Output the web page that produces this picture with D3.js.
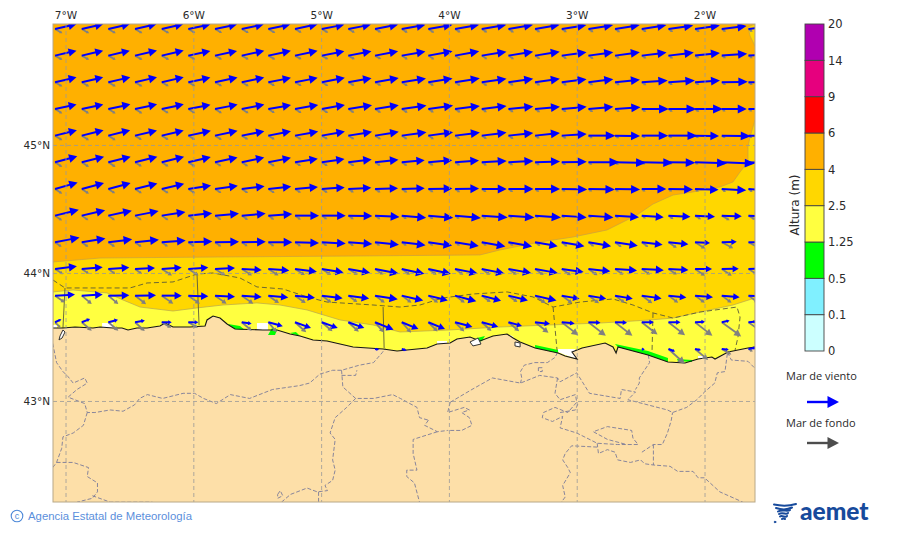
<!DOCTYPE html>
<html>
<head>
<meta charset="utf-8">
<script src="https://cdn.jsdelivr.net/npm/d3@7"></script>
<style>
  body { margin: 0; background: #fff; }
  text { font-family: "DejaVu Sans", sans-serif; fill: #2a2a2a; }
</style>
</head>
<body>
<div id="chart"></div>
<script>
// Colour bar classes (m)
const levels = ["0", "0.1", "0.5", "1.25", "2.5", "4", "6", "9", "14", "20"];
const levelColors = ["#ccffff", "#80f0ff", "#00ff00", "#ffff40", "#ffd700", "#ffb000", "#ff0000", "#e6007e", "#b000b0"];

const lonTicks = [-7, -6, -5, -4, -3, -2];
const latTicks = [45, 44, 43];

// Grid of the wave arrows
const gridLons = [-7.082, -6.873, -6.665, -6.456, -6.247, -6.039, -5.830, -5.621, -5.413, -5.204, -4.995, -4.787, -4.578, -4.369, -4.161, -3.952, -3.743, -3.534, -3.326, -3.117, -2.908, -2.700, -2.491, -2.282, -2.074, -1.865, -1.656];
const gridLats = [45.906, 45.698, 45.490, 45.281, 45.073, 44.865, 44.656, 44.448, 44.240, 44.031, 43.823, 43.615, 43.406];

// Wind sea: height (m) and angle above east (deg), one row per latitude
const _ = null;
const windHeight = [
  [4.4,4.4,4.4,4.4,4.4,4.5,4.5,4.5,4.5,4.6,4.6,4.6,4.7,4.8,4.9,4.9,5.0,5.0,5.0,5.0,5.0,5.0,5.0,5.0,5.0,5.0,5.0],
  [4.4,4.4,4.4,4.5,4.5,4.5,4.5,4.6,4.6,4.6,4.6,4.7,4.7,4.8,4.9,4.9,5.0,5.0,5.0,5.0,5.0,5.0,5.0,5.1,5.0,5.1,5.0],
  [4.4,4.4,4.5,4.5,4.5,4.5,4.6,4.6,4.6,4.6,4.7,4.7,4.8,4.9,4.9,5.0,5.0,5.0,5.0,5.0,5.0,5.0,5.2,5.3,5.0,5.2,5.2],
  [4.4,4.4,4.5,4.5,4.5,4.5,4.6,4.6,4.6,4.7,4.7,4.8,4.8,5.0,5.0,5.0,5.0,5.0,5.0,5.0,5.0,5.1,5.4,5.6,5.6,5.0,5.2],
  [4.5,4.5,4.5,4.5,4.5,4.6,4.6,4.6,4.6,4.7,4.7,4.8,4.8,5.0,5.0,5.0,5.0,5.0,5.0,5.0,5.4,5.0,5.3,5.8,4.8,5.8,5.5],
  [4.6,4.6,4.6,4.6,4.6,4.6,4.6,4.6,4.6,4.6,4.6,4.7,4.7,4.6,4.8,4.8,5.0,5.0,5.0,5.0,6.2,6.2,6.3,5.4,6.4,6.6,6.0],
  [4.7,4.6,4.6,4.6,4.6,4.6,4.6,4.6,4.6,4.6,4.6,4.6,4.6,4.6,4.8,4.8,5.0,5.0,5.0,5.1,5.3,5.0,4.9,4.9,4.7,4.9,3.5],
  [4.9,4.8,4.8,4.8,4.8,4.8,4.8,4.8,4.8,4.8,4.8,4.8,4.9,4.9,5.0,5.2,5.2,5.2,5.2,5.0,5.0,4.8,4.4,4.4,4.0,4.0,3.8],
  [5.0,4.8,4.8,4.8,4.8,4.8,4.8,4.8,4.8,4.8,4.8,4.8,4.8,4.8,4.8,4.8,4.8,4.8,4.6,4.6,4.6,4.6,4.2,4.0,3.0,3.0,2.8],
  [4.4,4.2,4.2,4.0,4.0,4.0,4.0,4.0,4.2,4.4,4.4,4.4,4.8,4.6,4.6,4.6,4.6,4.6,4.6,4.4,4.4,4.4,4.4,4.0,3.4,3.4,2.6],
  [4.0,4.2,4.2,4.2,4.0,4.0,4.0,4.0,4.0,4.0,4.2,4.2,4.6,4.4,4.0,4.4,4.0,4.0,4.4,3.6,3.6,3.6,4.0,3.6,3.6,3.6,3.6],
  [1.4,1.8,2.0,2.0,2.0,2.0,_,2.0,3.0,3.4,3.4,3.4,4.0,3.6,3.6,3.6,3.4,2.8,3.0,2.6,2.4,2.4,2.4,2.4,2.0,1.6,1.6],
  [_,_,_,_,_,_,_,_,_,_,_,_,0.8,1.0,_,_,_,_,_,_,_,_,0.6,1.4,1.2,1.4,1.6]
];
const windAngle = [
  [13,13,13,13,13,12,12,12,12,12,11,11,11,10,10,10,10,10,10,9,9,9,9,8,8,7,6],
  [13,13,13,13,13,12,12,12,12,12,11,11,11,10,10,10,9,9,9,8,8,8,7,7,6,4,4],
  [13,13,13,13,13,12,12,12,11,11,11,10,10,9,9,9,8,8,8,7,7,6,4,4,4,1,1],
  [12,12,12,12,12,11,11,11,10,10,10,9,9,8,8,7,7,6,5,5,5,4,0,0,0,0,0],
  [14,14,14,13,13,12,12,11,11,10,10,9,9,8,8,7,7,6,6,4,0,-1,0,0,-1,-1,-1],
  [15,14,14,14,14,13,12,12,11,9,8,7,6,5,5,4,3,3,2,1,0,-1,-1,-1,-2,-2,-2],
  [16,15,15,14,13,9,8,7,6,5,4,3,2,2,1,1,0,0,0,-1,-1,-1,0,-1,-2,-3,-4],
  [14,13,12,11,9,6,5,5,4,0,0,-1,-3,-5,-5,-5,-4,-4,-4,-4,-4,-4,-4,-3,-3,-2,-3],
  [11,9,7,6,4,2,1,1,0,-2,-3,-4,-6,-7,-8,-9,-10,-10,-10,-10,-10,-9,-7,-6,-3,2,0],
  [7,5,4,3,4,4,3,-3,-4,-7,-9,-10,-11,-12,-12,-11,-11,-10,-10,-8,-6,-4,-3,-3,0,1,2],
  [3,3,1,1,0,-2,-3,-4,-5,-6,-7,-8,-9,-13,-14,-15,-15,-14,-13,-10,-10,-10,-8,-6,-5,-5,-3],
  [25,22,15,10,0,0,_,-8,-15,-20,-20,-20,-22,-22,-22,-15,-15,-15,-6,-5,-2,-2,0,0,3,12,5],
  [_,_,_,_,_,_,_,_,_,_,_,_,-10,-15,_,_,_,_,_,_,_,_,-10,-20,-10,-5,10]
];

// Swell
const swellHeight = [
  [1.7,1.7,1.7,1.7,1.7,1.6,1.6,1.6,1.6,1.5,1.5,1.5,1.4,1.4,1.4,1.3,1.3,1.3,1.2,1.2,1.2,1.2,1.1,1.1,1.1,1.0,1.0],
  [1.7,1.7,1.7,1.7,1.7,1.6,1.6,1.6,1.6,1.5,1.5,1.5,1.4,1.4,1.4,1.3,1.3,1.3,1.2,1.2,1.2,1.1,1.1,1.1,1.0,1.0,1.0],
  [1.7,1.7,1.7,1.7,1.6,1.6,1.6,1.6,1.5,1.5,1.5,1.4,1.4,1.4,1.3,1.3,1.3,1.2,1.2,1.2,1.1,1.1,1.1,1.0,1.0,1.0,1.0],
  [1.7,1.7,1.7,1.7,1.6,1.6,1.6,1.6,1.5,1.5,1.5,1.4,1.4,1.4,1.3,1.3,1.2,1.2,1.2,1.1,1.1,1.1,1.0,1.0,1.0,0.9,0.9],
  [1.7,1.7,1.7,1.6,1.6,1.6,1.6,1.5,1.5,1.5,1.4,1.4,1.4,1.3,1.3,1.2,1.2,1.2,1.1,1.1,1.0,1.0,0.9,0.9,0.9,0.9,0.9],
  [1.7,1.7,1.7,1.6,1.6,1.6,1.5,1.5,1.5,1.4,1.4,1.4,1.3,1.3,1.2,1.2,1.2,1.1,1.1,1.0,0.9,0.9,0.8,0.8,0.8,0.8,0.8],
  [1.7,1.7,1.6,1.6,1.6,1.6,1.5,1.5,1.5,1.4,1.4,1.3,1.3,1.3,1.2,1.2,1.1,1.1,1.0,0.9,0.9,0.9,0.9,0.9,0.9,1.0,1.0],
  [1.7,1.6,1.6,1.6,1.6,1.5,1.5,1.5,1.4,1.4,1.3,1.3,1.3,1.2,1.2,1.1,1.1,1.0,0.9,0.8,0.8,0.9,1.0,1.2,1.4,1.8,1.6],
  [1.6,1.6,1.6,1.6,1.5,1.5,1.5,1.4,1.4,1.4,1.3,1.3,1.2,1.2,1.2,1.2,1.2,1.2,1.3,1.4,1.4,1.6,1.6,2.0,2.4,2.6,2.4],
  [1.9,1.7,1.7,1.7,2.4,2.4,2.4,2.4,2.4,2.3,2.2,2.2,2.0,2.0,2.0,2.0,2.0,2.0,2.1,2.2,2.2,2.0,2.0,2.0,2.4,2.4,2.0],
  [2.4,2.6,2.6,2.8,2.8,2.8,2.8,2.8,2.6,2.6,2.4,2.2,2.4,2.4,2.4,2.4,2.2,2.2,2.6,2.6,2.6,2.4,2.6,2.4,2.4,2.4,2.4],
  [1.6,2.6,2.6,2.6,2.2,2.2,_,2.6,2.6,3.0,2.8,2.8,2.6,2.8,2.6,2.6,2.6,2.8,3.4,4.2,4.4,4.4,4.0,4.2,4.4,4.8,4.8],
  [_,_,_,_,_,_,_,_,_,_,_,_,_,_,_,_,_,_,_,_,_,_,_,4.4,3.4,2.2,1.0]
];
const swellAngle = [
  [-30,-30,-30,-30,-30,-30,-30,-30,-30,-30,-30,-30,-30,-33,-33,-33,-33,-33,-33,-33,-33,-33,-33,-33,-33,-33,-33],
  [-30,-30,-30,-30,-30,-30,-30,-30,-30,-30,-30,-30,-30,-33,-33,-33,-33,-33,-33,-33,-33,-33,-33,-33,-33,-33,-33],
  [-30,-30,-30,-30,-30,-30,-30,-30,-30,-30,-30,-30,-30,-33,-33,-33,-33,-33,-33,-33,-33,-33,-33,-33,-33,-33,-33],
  [-32,-32,-32,-32,-32,-32,-32,-32,-32,-32,-32,-32,-32,-33,-33,-33,-33,-33,-33,-33,-33,-33,-33,-33,-33,-33,-33],
  [-32,-32,-32,-32,-32,-32,-32,-32,-32,-32,-32,-32,-32,-33,-33,-33,-33,-33,-33,-33,-33,-33,-33,-33,-33,-33,-33],
  [-33,-33,-33,-33,-33,-33,-33,-33,-33,-33,-33,-33,-33,-33,-33,-33,-33,-33,-33,-33,-33,-33,-33,-33,-33,-33,-33],
  [-33,-33,-33,-33,-33,-33,-33,-33,-33,-33,-33,-33,-33,-33,-33,-33,-33,-33,-33,-35,-35,-35,-35,-35,-35,-35,-35],
  [-35,-35,-35,-35,-35,-35,-35,-35,-35,-35,-35,-35,-35,-35,-35,-35,-35,-35,-35,-38,-38,-35,-35,-35,-32,-30,-30],
  [-35,-35,-35,-35,-35,-35,-35,-35,-35,-35,-35,-35,-35,-35,-35,-35,-35,-35,-35,-38,-38,-36,-36,-34,-32,-28,-28],
  [-33,-33,-35,-35,-32,-32,-32,-32,-32,-32,-32,-32,-34,-35,-35,-35,-35,-35,-35,-35,-35,-35,-34,-34,-34,-34,-32],
  [-35,-40,-40,-38,-35,-35,-35,-35,-35,-35,-36,-36,-36,-36,-36,-36,-36,-36,-36,-36,-36,-36,-36,-36,-36,-36,-36],
  [-45,-40,-40,-42,-30,-30,_,-40,-50,-42,-40,-42,-50,-48,-45,-45,-42,-40,-38,-38,-38,-38,-38,-38,-38,-36,-36],
  [_,_,_,_,_,_,_,_,_,_,_,_,_,_,_,_,_,_,_,_,_,_,_,-42,-40,-30,-30]
];

// Land, coast and contour outlines as [lon, lat]
const coast = [[-7.098,43.570],[-7.020,43.570],[-6.926,43.578],[-6.785,43.570],[-6.730,43.578],[-6.628,43.570],[-6.558,43.570],[-6.511,43.555],[-6.441,43.570],[-6.362,43.570],[-6.261,43.586],[-6.221,43.609],[-6.159,43.578],[-6.026,43.578],[-5.908,43.586],[-5.893,43.633],[-5.846,43.664],[-5.791,43.648],[-5.736,43.602],[-5.674,43.563],[-5.455,43.555],[-5.345,43.555],[-5.243,43.523],[-5.165,43.508],[-5.063,43.477],[-4.954,43.469],[-4.750,43.422],[-4.515,43.406],[-4.406,43.391],[-4.328,43.398],[-4.171,43.414],[-4.093,43.445],[-3.991,43.453],[-3.937,43.484],[-3.835,43.500],[-3.757,43.469],[-3.655,43.508],[-3.545,43.523],[-3.498,43.492],[-3.443,43.461],[-3.326,43.414],[-3.146,43.375],[-3.091,43.352],[-2.997,43.328],[-3.037,43.383],[-2.958,43.414],[-2.778,43.453],[-2.716,43.422],[-2.692,43.375],[-2.677,43.422],[-2.442,43.359],[-2.286,43.305],[-2.153,43.297],[-2.051,43.328],[-1.942,43.344],[-1.918,43.328],[-1.816,43.383],[-1.660,43.414],[-1.605,43.422]];
const estuaries = [
  [[-7.020,43.555],[-7.043,43.508],[-7.051,43.477],[-7.027,43.492],[-7.004,43.539]],
  [[-3.835,43.461],[-3.772,43.492],[-3.749,43.445],[-3.812,43.430]],
  [[-3.483,43.461],[-3.443,43.453],[-3.443,43.422],[-3.483,43.430]]
];
const goldEdge = [[-7.098,44.086],[-6.730,44.117],[-5.791,44.125],[-4.696,44.133],[-3.757,44.141],[-3.600,44.180],[-3.287,44.242],[-3.029,44.281],[-2.763,44.336],[-2.528,44.453],[-2.403,44.539],[-2.246,44.609],[-2.090,44.633],[-1.879,44.672],[-1.777,44.711],[-1.722,44.789],[-1.660,44.867],[-1.660,44.984],[-1.644,45.063],[-1.605,45.195]];
const goldCorner = [[-1.605,45.945],[-1.660,45.922],[-1.644,45.852],[-1.605,45.773]];
const yellowEdge = [[-7.098,43.852],[-6.941,43.867],[-6.675,43.844],[-6.550,43.789],[-6.417,43.734],[-6.159,43.703],[-5.971,43.727],[-5.768,43.750],[-5.502,43.766],[-5.322,43.750],[-5.110,43.711],[-4.852,43.633],[-4.594,43.594],[-4.383,43.539],[-3.991,43.555],[-3.600,43.578],[-3.209,43.594],[-2.817,43.609],[-2.426,43.633],[-2.246,43.648],[-2.035,43.695],[-1.777,43.750],[-1.605,43.805]];
const greenPatches = [
  [[-5.728,43.602],[-5.674,43.563],[-5.596,43.555],[-5.635,43.586]],
  [[-5.416,43.516],[-5.384,43.570],[-5.345,43.555],[-5.361,43.516]],
  [[-5.243,43.531],[-5.165,43.508],[-5.197,43.539]],
  [[-3.780,43.492],[-3.718,43.508],[-3.741,43.469],[-3.772,43.461]],
  [[-3.326,43.438],[-3.146,43.398],[-3.146,43.375],[-3.326,43.414]],
  [[-2.701,43.445],[-2.442,43.391],[-2.286,43.336],[-2.286,43.305],[-2.442,43.359],[-2.677,43.422]],
  [[-2.216,43.328],[-2.098,43.320],[-2.098,43.305],[-2.208,43.313]]
];
const whitePatches = [
  [[-6.714,43.609],[-6.628,43.609],[-6.628,43.570],[-6.714,43.570]],
  [[-5.502,43.609],[-5.416,43.609],[-5.416,43.555],[-5.502,43.555]],
  [[-4.093,43.469],[-4.015,43.469],[-4.015,43.445],[-4.093,43.445]],
  [[-3.146,43.406],[-3.013,43.406],[-2.997,43.328],[-3.091,43.359],[-3.146,43.383]],
  [[-2.051,43.352],[-1.989,43.352],[-1.989,43.336],[-2.051,43.332]],
  [[-3.522,43.516],[-3.491,43.500],[-3.522,43.492]],
  [[-7.098,43.594],[-7.067,43.594],[-7.067,43.570],[-7.098,43.570]]
];
// Offshore forecast zones
const zoneEdge = [[-7.098,43.945],[-7.004,43.883],[-6.496,43.883],[-6.362,43.922],[-6.159,43.930],[-5.971,43.992],[-5.846,44.000],[-5.635,43.961],[-5.502,43.891],[-5.298,43.875],[-5.110,43.813],[-4.954,43.773],[-4.594,43.750],[-4.383,43.734],[-4.226,43.750],[-4.046,43.805],[-3.811,43.836],[-3.545,43.852],[-3.342,43.813],[-3.185,43.734],[-2.974,43.773],[-2.716,43.797],[-2.560,43.750],[-2.403,43.688],[-2.246,43.648],[-2.035,43.695],[-1.746,43.734],[-1.722,43.656],[-1.738,43.500],[-1.761,43.398]];
const zoneSplits = [
  [[-7.004,43.883],[-7.020,43.570]],
  [[-5.971,43.992],[-5.955,43.594]],
  [[-4.515,43.734],[-4.507,43.414]]
];
const zoneSplitsDashed = [
  [[-3.185,43.734],[-3.154,43.398]],
  [[-2.403,43.688],[-2.411,43.375]]
];
// Province borders
const borders = [
  [[-7.10,43.45],[-7.07,43.30],[-7.02,43.23],[-6.98,43.19],[-6.94,43.14],[-6.85,43.18],[-6.83,43.14],[-6.91,43.09],[-6.98,43.03],[-6.85,42.98],[-6.83,42.91],[-6.77,42.91],[-6.65,42.93],[-6.55,42.92],[-6.46,42.97],[-6.42,43.02],[-6.36,43.05],[-6.24,43.02],[-6.08,43.06],[-5.99,43.06],[-5.92,43.02],[-5.82,42.98],[-5.71,43.05],[-5.56,43.02],[-5.38,43.09],[-5.17,43.12],[-5.09,43.14],[-5.01,43.21],[-4.91,43.24],[-4.84,43.24],[-4.70,43.28],[-4.59,43.30],[-4.52,43.38],[-4.50,43.41]],
  [[-6.83,42.91],[-6.86,42.81],[-6.94,42.75],[-7.02,42.72],[-7.03,42.63],[-7.07,42.52],[-7.10,42.48]],
  [[-7.07,42.52],[-6.94,42.52],[-6.82,42.48],[-6.83,42.41],[-6.75,42.36],[-6.75,42.29],[-6.79,42.24],[-6.91,42.21]],
  [[-6.79,42.26],[-6.65,42.21],[-6.32,42.21]],
  [[-4.84,43.24],[-4.83,43.11],[-4.73,43.02],[-4.59,43.02],[-4.44,43.05],[-4.38,43.02],[-4.25,42.95],[-4.23,42.87],[-4.16,42.85]],
  [[-4.84,43.20],[-4.73,43.20],[-4.72,43.24]],
  [[-4.73,43.02],[-4.80,42.95],[-4.89,42.87],[-4.93,42.75],[-4.89,42.70],[-4.91,42.54],[-4.89,42.46],[-4.91,42.38],[-4.97,42.34],[-4.95,42.30],[-5.03,42.29],[-5.11,42.32],[-5.24,42.27],[-5.31,42.21]],
  [[-5.34,42.27],[-5.32,42.30],[-5.30,42.26],[-5.34,42.24],[-5.34,42.27]],
  [[-5.02,42.29],[-5.02,42.21]],
  [[-4.16,42.85],[-4.19,42.81],[-4.09,42.76],[-4.01,42.77]],
  [[-4.09,42.76],[-4.28,42.70],[-4.28,42.59],[-4.25,42.46],[-4.33,42.46],[-4.33,42.41],[-4.27,42.36],[-4.23,42.21]],
  [[-3.99,42.99],[-3.82,43.09],[-3.66,43.18],[-3.44,43.14],[-3.29,43.20],[-3.15,43.18],[-3.13,43.15],[-3.00,43.22],[-2.95,43.14],[-2.90,43.06],[-2.66,43.02],[-2.65,43.09],[-2.54,43.07],[-2.60,43.01],[-2.29,42.93],[-2.25,42.91],[-2.14,42.95],[-2.06,43.01],[-2.00,43.07],[-1.92,43.14],[-1.90,43.22],[-1.84,43.23],[-1.82,43.38]],
  [[-3.99,42.99],[-4.01,42.91],[-3.88,42.95],[-3.84,42.93],[-3.90,42.91],[-3.84,42.87],[-3.82,42.81],[-3.90,42.77],[-4.01,42.77]],
  [[-1.82,43.38],[-1.79,43.32],[-1.66,43.31],[-1.61,43.26]],
  [[-2.44,43.36],[-2.43,43.30],[-2.51,43.18],[-2.51,43.14],[-2.54,43.09]],
  [[-3.15,43.38],[-3.17,43.34],[-3.23,43.30],[-3.33,43.30],[-3.41,43.28],[-3.44,43.23],[-3.43,43.18],[-3.44,43.14]],
  [[-3.30,43.26],[-3.27,43.26],[-3.27,43.23],[-3.30,43.23],[-3.30,43.26]],
  [[-3.15,43.18],[-3.17,43.06],[-3.13,43.01],[-3.01,43.05],[-3.00,42.99],[-3.07,42.91],[-3.17,42.95],[-3.26,42.91],[-3.27,42.87],[-3.19,42.84],[-3.11,42.88],[-3.13,42.79],[-3.00,42.75],[-2.84,42.67],[-2.68,42.66],[-2.52,42.66],[-2.56,42.71],[-2.57,42.77],[-2.76,42.80],[-2.87,42.76],[-2.76,42.70],[-2.61,42.66]],
  [[-2.84,42.67],[-2.83,42.59],[-2.76,42.62],[-2.70,42.60],[-2.68,42.54],[-2.58,42.52],[-2.50,42.54],[-2.47,42.51],[-2.40,42.50],[-2.27,42.49],[-2.21,42.45],[-2.09,42.45],[-2.05,42.40],[-2.00,42.40],[-1.88,42.29],[-1.70,42.21]],
  [[-2.84,42.64],[-3.04,42.65],[-3.09,42.59],[-3.11,42.54],[-3.07,42.48],[-3.05,42.44],[-3.11,42.34],[-3.09,42.25],[-3.12,42.21]],
  [[-2.49,42.60],[-2.40,42.66],[-2.33,42.66],[-2.29,42.75],[-2.26,42.85],[-2.25,42.91]],
  [[-2.40,42.66],[-2.40,42.50]],
  [[-3.13,42.91],[-3.01,42.93],[-2.99,42.98]]
];

const width = 900, height = 533;
const margin = { top: 24, right: 145, bottom: 31, left: 53 };
const plotW = width - margin.left - margin.right;
const plotH = height - margin.top - margin.bottom;

const svg = d3.select("#chart").append("svg")
  .attr("width", width)
  .attr("height", height)
  .style("display", "block");

// Map scales
const lonScale = d3.scaleLinear().domain([-7.098, -1.605]).range([0, plotW]);
const latScale = d3.scaleLinear().domain([45.945, 42.211]).range([0, plotH]);
const lonMin = lonScale.domain()[0], lonMax = lonScale.domain()[1];
const latMin = latScale.domain()[1];

const arrowLen = d3.scaleLinear().domain([0, 1]).range([0, 5]);

const pathGen = d3.line().x(d => lonScale(d[0])).y(d => latScale(d[1]));
const closed = d3.line().x(d => lonScale(d[0])).y(d => latScale(d[1])).curve(d3.curveLinearClosed);

svg.append("clipPath").attr("id", "plot-clip")
  .append("rect").attr("width", plotW).attr("height", plotH);

const map = svg.append("g")
  .attr("transform", `translate(${margin.left},${margin.top})`);
const g = map.append("g").attr("clip-path", "url(#plot-clip)");

// Filled height classes
g.append("rect").attr("width", plotW).attr("height", plotH).attr("fill", levelColors[5]);
g.append("path")
  .attr("d", closed(goldEdge.concat([[lonMax, latMin], [lonMin, latMin]])))
  .attr("fill", levelColors[4]).attr("stroke", "#c8a040").attr("stroke-width", 0.7);
g.append("path")
  .attr("d", closed(goldCorner))
  .attr("fill", levelColors[4]).attr("stroke", "#c8a040").attr("stroke-width", 0.7);
g.append("path")
  .attr("d", closed(yellowEdge.concat([[lonMax, latMin], [lonMin, latMin]])))
  .attr("fill", levelColors[3]).attr("stroke", "#b8a850").attr("stroke-width", 0.7);

g.selectAll(".white").data(whitePatches).enter().append("path")
  .attr("d", closed).attr("fill", "#fff");

// Land
g.append("path")
  .attr("d", closed(coast.concat([[lonMax, latMin], [lonMin, latMin]])))
  .attr("fill", "#fddfa8");

g.selectAll(".green").data(greenPatches).enter().append("path")
  .attr("d", closed).attr("fill", levelColors[2]);

// Grid through the axes
const xAxis = d3.axisTop(lonScale)
  .tickValues(lonTicks)
  .tickFormat(d => `${Math.abs(d)}°W`)
  .tickSize(-plotH)
  .tickPadding(5);
const yAxis = d3.axisLeft(latScale)
  .tickValues(latTicks)
  .tickFormat(d => `${d}°N`)
  .tickSize(-plotW)
  .tickPadding(3);

[map.append("g").call(xAxis), map.append("g").call(yAxis)].forEach(ax => {
  ax.select(".domain").remove();
  ax.selectAll("line")
    .attr("stroke", "#999999")
    .attr("stroke-width", 0.8)
    .attr("stroke-dasharray", "4,3");
  ax.selectAll("text")
    .style("font-family", '"DejaVu Sans", sans-serif')
    .style("font-size", "10.5px")
    .attr("fill", "#2a2a2a");
});

// Province borders
g.selectAll(".border").data(borders).enter().append("path")
  .attr("d", pathGen)
  .attr("fill", "none")
  .attr("stroke", "#7a7a98")
  .attr("stroke-width", 0.9)
  .attr("stroke-dasharray", "4,2");

// Forecast zones
g.append("path").attr("d", pathGen(zoneEdge))
  .attr("fill", "none").attr("stroke", "#5a5a3a").attr("stroke-width", 0.9).attr("stroke-dasharray", "5,3");
g.selectAll(".split").data(zoneSplits).enter().append("path")
  .attr("d", pathGen).attr("fill", "none").attr("stroke", "#5a5a3a").attr("stroke-width", 0.9);
g.selectAll(".split-d").data(zoneSplitsDashed).enter().append("path")
  .attr("d", pathGen).attr("fill", "none").attr("stroke", "#5a5a3a").attr("stroke-width", 0.9).attr("stroke-dasharray", "5,3");

// Coast
g.append("path").attr("d", pathGen(coast))
  .attr("fill", "none").attr("stroke", "#151515").attr("stroke-width", 1.1);
g.selectAll(".estuary").data(estuaries).enter().append("path")
  .attr("d", closed).attr("fill", "#fff").attr("stroke", "#333").attr("stroke-width", 1);

// One arrow, pointing along +x before it is rotated
function drawArrow(sel, len, color, lineW, headK, headW, headMax) {
  const head = Math.max(2.5, Math.min(headMax, len * headK));
  const halfW = Math.min(headW, head * 0.95) / 2 + 0.4;
  sel.append("line")
    .attr("x1", 0).attr("y1", 0)
    .attr("x2", Math.max(0, len - head * 0.8)).attr("y2", 0)
    .attr("stroke", color).attr("stroke-width", lineW);
  sel.append("path")
    .attr("d", `M${len},0L${len - head},${-halfW}L${len - head},${halfW}Z`)
    .attr("fill", color);
}

function drawField(heights, angles, color, lineW, headK, headW, headMax) {
  const cells = [];
  gridLats.forEach((lat, r) => gridLons.forEach((lon, c) => {
    if (heights[r][c] !== null) cells.push({ lon, lat, h: heights[r][c], a: angles[r][c] });
  }));
  g.append("g").selectAll("g").data(cells).enter().append("g")
    .attr("transform", d => `translate(${lonScale(d.lon)},${latScale(d.lat)}) rotate(${-d.a})`)
    .each(function (d) {
      drawArrow(d3.select(this), arrowLen(d.h), color, lineW, headK, headW, headMax);
    });
}

drawField(swellHeight, swellAngle, "#808080", 1.8, 0.32, 6.5, 7);
drawField(windHeight, windAngle, "#0000ff", 2, 0.36, 8, 10);

// Frame
map.append("rect").attr("width", plotW).attr("height", plotH)
  .attr("fill", "none").attr("stroke", "#b8a888").attr("stroke-width", 1);

// Colour bar
const barX = 805, barW = 19;
const barScale = d3.scalePoint().domain(levels).range([351, 24]);
const bar = svg.append("g");
bar.selectAll("rect").data(levelColors).enter().append("rect")
  .attr("x", barX)
  .attr("y", (d, i) => barScale(levels[i + 1]))
  .attr("width", barW)
  .attr("height", (d, i) => barScale(levels[i]) - barScale(levels[i + 1]))
  .attr("fill", d => d)
  .attr("stroke", "#444")
  .attr("stroke-width", 0.9);

const barAxis = svg.append("g")
  .attr("transform", `translate(${barX + barW},0)`)
  .call(d3.axisRight(barScale).tickSize(0).tickPadding(4));
barAxis.select(".domain").remove();
barAxis.selectAll("text")
  .style("font-family", '"DejaVu Sans", sans-serif')
  .style("font-size", "11.5px")
  .attr("fill", "#222");

svg.append("text")
  .attr("transform", "translate(795,205) rotate(-90)")
  .attr("dy", "0.35em")
  .attr("text-anchor", "middle")
  .style("font-size", "12px")
  .text("Altura (m)");

// Arrow legend
function legendArrow(label, yLabel, yArrow, color) {
  svg.append("text")
    .attr("x", 786).attr("y", yLabel).attr("dy", "0.35em")
    .style("font-family", '"Open Sans", sans-serif')
    .style("font-size", "11px")
    .text(label);
  const a = svg.append("g").attr("transform", `translate(807,${yArrow})`);
  a.append("line").attr("x1", 0).attr("x2", 23).attr("stroke", color).attr("stroke-width", 2.4);
  a.append("path").attr("d", "M32,0L20.5,-6L20.5,6Z").attr("fill", color);
}
legendArrow("Mar de viento", 376, 402, "#0000ff");
legendArrow("Mar de fondo", 423, 443, "#4d4d4d");

// Footer
svg.append("circle").attr("cx", 17).attr("cy", 516).attr("r", 5.8)
  .attr("fill", "none").attr("stroke", "#4d88d8").attr("stroke-width", 1.1);
svg.append("text")
  .attr("x", 17).attr("y", 516).attr("dy", "0.35em").attr("text-anchor", "middle")
  .style("font-family", '"Liberation Sans", sans-serif').style("font-size", "9px")
  .style("fill", "#4d88d8").text("c");
svg.append("text")
  .attr("x", 28).attr("y", 516).attr("dy", "0.35em")
  .style("font-family", '"Liberation Sans", sans-serif').style("font-size", "11.35px")
  .style("fill", "#5b8fdc").text("Agencia Estatal de Meteorología");

// AEMET mark
const logo = svg.append("g").attr("transform", "translate(773,503)")
  .attr("fill", "none").attr("stroke", "#174a9c").attr("stroke-linecap", "round");
["M1,1.5C8,3 16,3 23,1", "M3,5C9,7 14,7 19,4.5", "M5,8.5C9,6 15,9 17,7", "M6,11C9,9 14,12 15,10", "M7,13.5C9,12 13,15 14,13", "M9,16C10,15 12,16 12,16"]
  .forEach(d => logo.append("path").attr("d", d).attr("stroke-width", 2));
logo.append("circle").attr("cx", 2).attr("cy", 19).attr("r", 0.8).attr("fill", "#174a9c");
svg.append("text")
  .attr("x", 800).attr("y", 520)
  .style("font-family", "Lato, sans-serif")
  .style("font-weight", 900)
  .style("font-size", "24.5px")
  .style("fill", "#174a9c")
  .text("aemet");
</script>
</body>
</html>
